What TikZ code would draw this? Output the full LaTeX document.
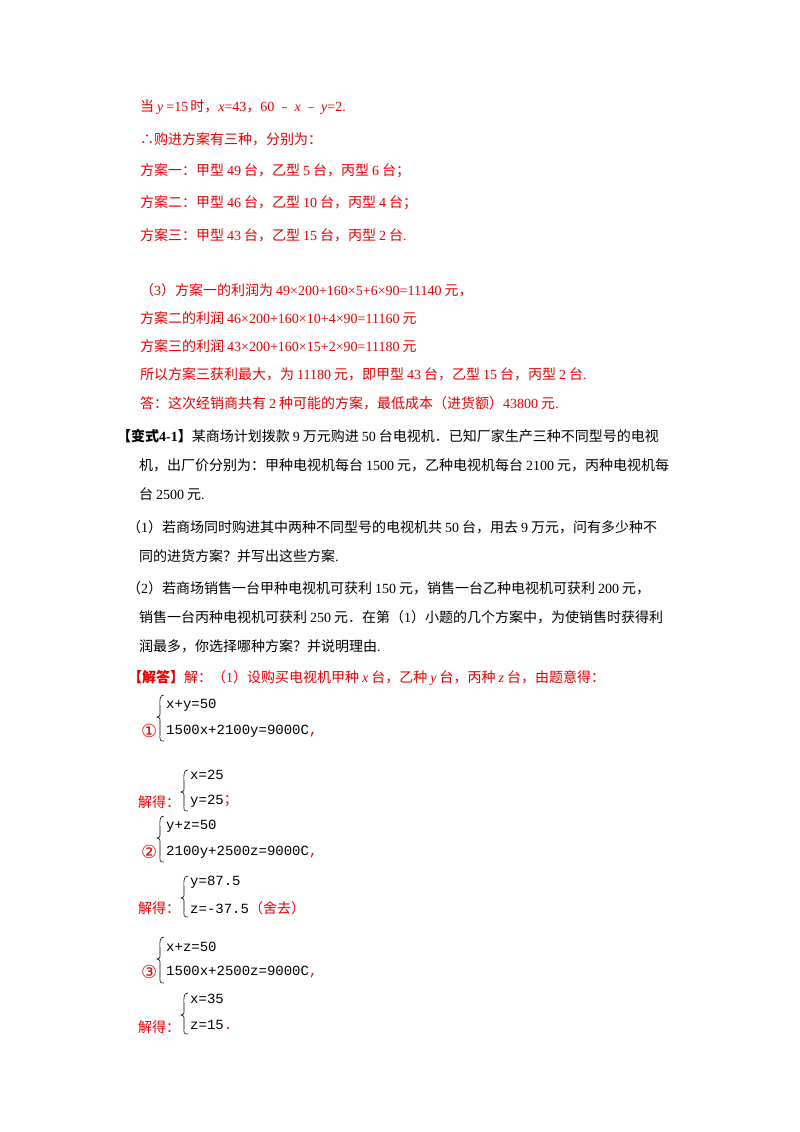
\documentclass[tikz,border=0pt]{standalone}
\usepackage{fontspec}
\setmainfont{Liberation Serif}
\newfontfamily\cjk{Noto Sans CJK SC}
\newfontfamily\mono{Liberation Mono}
\newfontfamily\dv{DejaVu Sans}
\definecolor{red1}{RGB}{230,0,0}
\tikzset{t/.style={anchor=west,inner sep=0pt,font=\fontsize{14}{16}\selectfont\cjk},
r/.style={t,text=red1},
eq/.style={anchor=west,inner sep=0pt,font=\fontsize{14}{16}\selectfont\mono},
br/.style={line width=0.6pt}}
\newcommand{\mi}[1]{\hspace{3pt}{\fontspec{Liberation Serif}\itshape #1}\hspace{3pt}}
\newcommand{\mj}[1]{{\fontspec{Liberation Serif}\itshape #1}}
\newcommand{\nm}[1]{{\fontspec{Liberation Serif}#1}}
\newcommand{\ns}[1]{\hspace{3pt}{\fontspec{Liberation Serif}#1}\hspace{3pt}}
\begin{document}
\begin{tikzpicture}[x=1pt,y=-1pt]
\useasboundingbox[fill=white] (0,0) rectangle (800,1132);
\node[r] (l1) at (140,107) {当\mi{y}\nm{=15}\hspace{2pt}时，\mj{x}\nm{=43}，\nm{60} ﹣ \mj{x} ﹣ \mj{y}\nm{=2.}};
\node[r] (l2) at (140,139) {∴购进方案有三种，分别为：};
\node[r] (l3) at (140,171) {方案一：甲型\ns{49}台，乙型\ns{5}台，丙型\ns{6}台；};
\node[r] (l4) at (140,203) {方案二：甲型\ns{46}台，乙型\ns{10}台，丙型\ns{4}台；};
\node[r] (l5) at (140,235) {方案三：甲型\ns{43}台，乙型\ns{15}台，丙型\ns{2}台\nm{.}};
\node[r] (l6) at (140,290) {（\nm{3}）方案一的利润为\ns{49×200+160×5+6×90=11140}元，};
\node[r] (l7) at (140,318) {方案二的利润\ns{46×200+160×10+4×90=11160}元};
\node[r] (l8) at (140,346) {方案三的利润\ns{43×200+160×15+2×90=11180}元};
\node[r] (l9) at (140,374) {所以方案三获利最大，为\ns{11180}元，即甲型\ns{43}台，乙型\ns{15}台，丙型\ns{2}台\nm{.}};
\node[r] (l10) at (140,403) {答：这次经销商共有\ns{2}种可能的方案，最低成本（进货额）\nm{43800}\hspace{3pt}元\nm{.}};
\node[t] (p1) at (117,436) {\textbf{【变式\nm{\bfseries 4-1}】}某商场计划拨款\ns{9}万元购进\ns{50}台电视机．已知厂家生产三种不同型号的电视};
\node[t] (p2) at (139,465) {机，出厂价分别为：甲种电视机每台\ns{1500}元，乙种电视机每台\ns{2100}元，丙种电视机每};
\node[t] (p3) at (139,494) {台\ns{2500}元\nm{.}};
\node[t] (p4) at (127,527) {（\nm{1}）若商场同时购进其中两种不同型号的电视机共\ns{50}台，用去\ns{9}万元，问有多少种不};
\node[t] (p5) at (139,556) {同的进货方案？并写出这些方案\nm{.}};
\node[t] (p6) at (127,588) {（\nm{2}）若商场销售一台甲种电视机可获利\ns{150}元，销售一台乙种电视机可获利\ns{200}元，};
\node[t] (p7) at (139,617) {销售一台丙种电视机可获利\ns{250}元．在第（\nm{1}）小题的几个方案中，为使销售时获得利};
\node[t] (p8) at (139,646) {润最多，你选择哪种方案？并说明理由\nm{.}};
\node[r] (s0) at (128,678) {\textbf{【解答】}解：（\nm{1}）设购买电视机甲种\mi{x}台，乙种\mi{y}台，丙种\mi{z}台，由题意得：};
% system 1
\node[r,font=\fontsize{18}{18}\selectfont\dv] (c1) at (141,731) {①};
\draw[br] (164,695) .. controls (159,695) and (160,700) .. (160,710) -- (160,714) .. controls (160,716) .. (157,717) .. controls (160,718) .. (160,720) -- (160,732) .. controls (160,740) and (159,741) .. (164,741);
\node[eq] (e1a) at (166,705) {x+y=50};
\node[eq] (e1b) at (166,731) {1500x+2100y=9000C\textcolor{red1}{,}};
\node[r] (j1) at (138,802) {解得：};
\draw[br] (188,770) .. controls (183,770) and (184,775) .. (184,785) -- (184,789) .. controls (184,791) .. (181,792) .. controls (184,793) .. (184,795) -- (184,803) .. controls (184,810) and (183,811) .. (188,811);
\node[eq] (j1a) at (190,775) {x=25};
\node[eq] (j1b) at (190,801) {y=25\textcolor{red1}{\cjk ；}};
% system 2
\node[r,font=\fontsize{18}{18}\selectfont\dv] (c2) at (141,852) {②};
\draw[br] (164,816) .. controls (159,816) and (160,821) .. (160,831) -- (160,835) .. controls (160,837) .. (157,838) .. controls (160,839) .. (160,841) -- (160,853) .. controls (160,861) and (159,862) .. (164,862);
\node[eq] (e2a) at (166,826) {y+z=50};
\node[eq] (e2b) at (166,852) {2100y+2500z=9000C\textcolor{red1}{,}};
\node[r] (j2) at (138,908) {解得：};
\draw[br] (188,876) .. controls (183,876) and (184,881) .. (184,891) -- (184,895) .. controls (184,897) .. (181,898) .. controls (184,899) .. (184,901) -- (184,909) .. controls (184,916) and (183,917) .. (188,917);
\node[eq] (j2a) at (190,882) {y=87.5};
\node[eq] (j2b) at (190,908) {z=-37.5\textcolor{red1}{\cjk （舍去）}};
% system 3
\node[r,font=\fontsize{18}{18}\selectfont\dv] (c3) at (141,972) {③};
\draw[br] (164,937) .. controls (159,937) and (160,942) .. (160,952) -- (160,956) .. controls (160,958) .. (157,959) .. controls (160,960) .. (160,962) -- (160,974) .. controls (160,982) and (159,983) .. (164,983);
\node[eq] (e3a) at (166,947) {x+z=50};
\node[eq] (e3b) at (166,972) {1500x+2500z=9000C\textcolor{red1}{,}};
\node[r] (j3) at (138,1027) {解得：};
\draw[br] (188,993) .. controls (183,993) and (184,998) .. (184,1008) -- (184,1012) .. controls (184,1014) .. (181,1015) .. controls (184,1016) .. (184,1018) -- (184,1026) .. controls (184,1033) and (183,1034) .. (188,1034);
\node[eq] (j3a) at (190,999) {x=35};
\node[eq] (j3b) at (190,1025) {z=15\textcolor{red1}{.}};
\end{tikzpicture}
\end{document}
